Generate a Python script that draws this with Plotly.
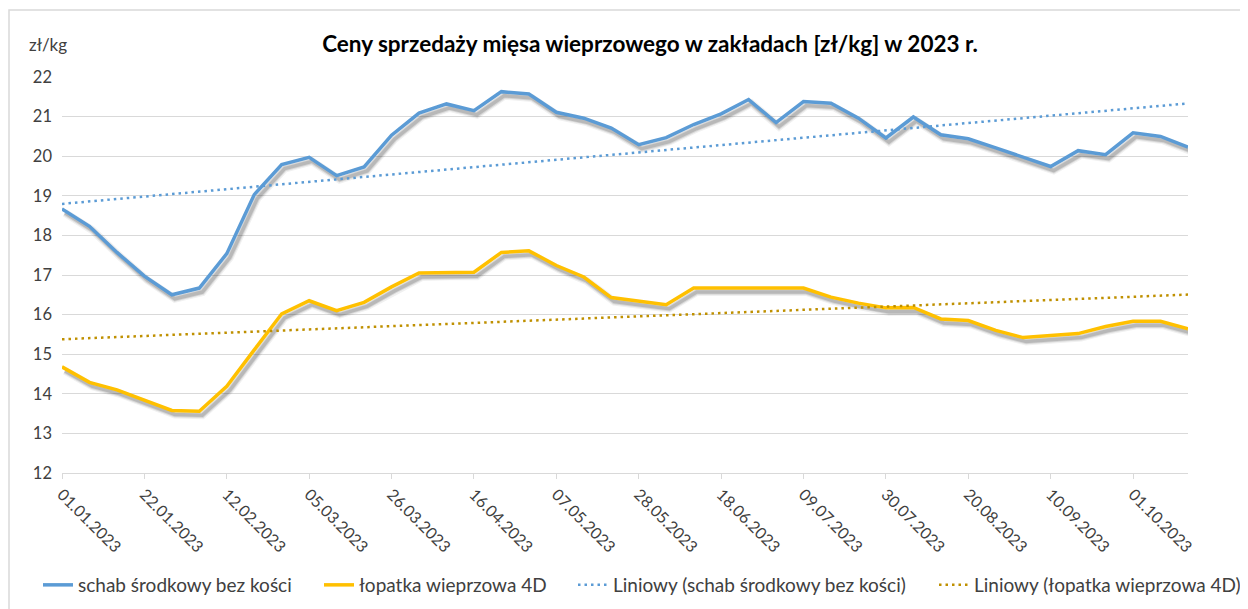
import numpy as np
import plotly.graph_objects as go

# ---------------- data ----------------
dates = ["01.01.2023", "08.01.2023", "15.01.2023", "22.01.2023", "29.01.2023", "05.02.2023",
         "12.02.2023", "19.02.2023", "26.02.2023", "05.03.2023", "12.03.2023", "19.03.2023",
         "26.03.2023", "02.04.2023", "09.04.2023", "16.04.2023", "23.04.2023", "30.04.2023",
         "07.05.2023", "14.05.2023", "21.05.2023", "28.05.2023", "04.06.2023", "11.06.2023",
         "18.06.2023", "25.06.2023", "02.07.2023", "09.07.2023", "16.07.2023", "23.07.2023",
         "30.07.2023", "06.08.2023", "13.08.2023", "20.08.2023", "27.08.2023", "03.09.2023",
         "10.09.2023", "17.09.2023", "24.09.2023", "01.10.2023", "08.10.2023", "15.10.2023"]

schab = [18.67, 18.23, 17.57, 16.97, 16.50, 16.67, 17.54, 19.03, 19.79, 19.97,
         19.51, 19.73, 20.53, 21.09, 21.32, 21.15, 21.63, 21.57, 21.11, 20.96,
         20.71, 20.29, 20.47, 20.80, 21.07, 21.43, 20.85, 21.38, 21.34, 20.96,
         20.46, 20.99, 20.54, 20.44, 20.21, 19.98, 19.74, 20.14, 20.04, 20.59,
         20.50, 20.23]

lopatka = [14.68, 14.29, 14.10, 13.83, 13.58, 13.56, 14.19, 15.11, 16.02, 16.35,
           16.10, 16.31, 16.70, 17.05, 17.07, 17.07, 17.57, 17.61, 17.24, 16.95,
           16.43, 16.34, 16.25, 16.67, 16.67, 16.67, 16.65, 16.67, 16.44, 16.29,
           16.17, 16.18, 15.89, 15.85, 15.60, 15.42, 15.47, 15.52, 15.70, 15.83,
           15.83, 15.64]

tick_labels = ["01.01.2023", "22.01.2023", "12.02.2023", "05.03.2023", "26.03.2023",
               "16.04.2023", "07.05.2023", "28.05.2023", "18.06.2023", "09.07.2023",
               "30.07.2023", "20.08.2023", "10.09.2023", "01.10.2023"]

names = ["schab środkowy bez kości", "łopatka wieprzowa 4D",
         "Liniowy (schab środkowy bez kości)", "Liniowy (łopatka wieprzowa 4D)"]

# linear trendlines (Excel "Liniowy")
idx = np.arange(len(dates))
def trend(vals):
    a, b = np.polyfit(idx, np.array(vals), 1)
    return list(a * idx + b)

schab_tr = trend(schab)
lop_tr = trend(lopatka)

# ---------------- geometry ----------------
# The page body has an 8px margin, so the figure is sized/positioned to compensate.
OFF = 8
W, H = 1248 - OFF, 609 - OFF
PL, PR, PT, PB = 62 - OFF, 1188 - OFF, 77 - OFF, 473 - OFF   # plot area in figure px
ML, MR, MT, MB = PL, W - PR, PT, H - PB
PW, PH = PR - PL, PB - PT
Y_MIN, Y_MAX = 12, 22
N = len(dates)
px_per_cat = PW / (N - 1)
px_per_unit = PH / (Y_MAX - Y_MIN)
SHX, SHY = 3, 4  # shadow offset in px

def paper_x(px):
    return (px - PL) / PW

def paper_y(py):
    return (PB - py) / PH

BLUE = "#5B9BD5"
YELLOW = "#FFC000"
GOLD = "#BF9000"
TXT = "#404040"
FONT = "Lato, 'Open Sans', sans-serif"

fig = go.Figure()

# shadows on shifted hidden axes x2/y2
for vals in (schab, lopatka):
    for w, a in ((8, 0.06), (5.5, 0.10), (3.5, 0.14)):
        fig.add_trace(go.Scatter(x=dates, y=vals, mode="lines", xaxis="x2", yaxis="y2",
                                 line=dict(color=f"rgba(0,0,0,{a})", width=w),
                                 hoverinfo="skip", showlegend=False))

# main series + trendlines on overlay axes x3/y3, each in its own legend
series = [(schab, names[0], BLUE, 3.5, "solid", "legend"),
          (lopatka, names[1], YELLOW, 3.5, "solid", "legend2"),
          (schab_tr, names[2], BLUE, 2.5, "2.5px,4px", "legend3"),
          (lop_tr, names[3], GOLD, 2.5, "2.5px,4px", "legend4")]
for vals, nm, col, w, dash, lg in series:
    fig.add_trace(go.Scatter(x=dates, y=vals, mode="lines", name=nm, xaxis="x3", yaxis="y3",
                             line=dict(color=col, width=w, dash=dash), legend=lg))

# base axes placeholder trace
fig.add_trace(go.Scatter(x=dates, y=[None] * N, mode="lines", showlegend=False, hoverinfo="skip"))

dx = SHX / px_per_cat
dy = SHY / px_per_unit

# legend text start positions (reference page px) -> legend x
legend_text_x = [77, 358, 612, 973]
LEG_Y = 585 - OFF
leg_common = dict(orientation="h", xref="container", yref="container",
                  xanchor="left", yanchor="middle", font=dict(size=19, color=TXT),
                  bgcolor="rgba(0,0,0,0)")
legends = {}
for i, tx in enumerate(legend_text_x):
    key = "legend" if i == 0 else f"legend{i + 1}"
    legends[key] = dict(leg_common, x=(tx - OFF - 39) / W, y=1 - LEG_Y / H)

fig.update_layout(
    width=W, height=H,
    margin=dict(l=ML, r=MR, t=MT, b=MB, autoexpand=False),
    paper_bgcolor="white", plot_bgcolor="white",
    font=dict(family=FONT, color=TXT),
    title=dict(text="<b>Ceny sprzedaży mięsa wieprzowego w zakładach [zł/kg] w 2023 r.</b>",
               xref="container", yref="container", x=(650 - OFF) / W, y=1 - (44 - OFF) / H,
               xanchor="center", yanchor="middle",
               font=dict(family=FONT, size=22.5, color="#000000")),
    xaxis=dict(type="category", categoryorder="array", categoryarray=dates,
               range=[0, N - 1], tickmode="array", tickvals=tick_labels, ticktext=tick_labels,
               tickangle=45, ticks="outside", ticklen=5, tickcolor="#d9d9d9",
               showline=True, linecolor="#d9d9d9", linewidth=1, showgrid=False, zeroline=False,
               automargin=False, tickfont=dict(size=16, color=TXT)),
    yaxis=dict(range=[Y_MIN, Y_MAX], dtick=1, tick0=12, showgrid=True, gridcolor="#d9d9d9",
               gridwidth=1, zeroline=False, showline=False, ticks="", automargin=False,
               tickfont=dict(size=16.5, color=TXT), ticklabelstandoff=9),
    xaxis2=dict(type="category", categoryorder="array", categoryarray=dates, overlaying="x",
                anchor="y2", range=[0 - dx, N - 1 - dx], visible=False),
    yaxis2=dict(overlaying="y", anchor="x2", range=[Y_MIN + dy, Y_MAX + dy], visible=False),
    xaxis3=dict(type="category", categoryorder="array", categoryarray=dates, overlaying="x",
                anchor="y3", range=[0, N - 1], visible=False),
    yaxis3=dict(overlaying="y", anchor="x3", range=[Y_MIN, Y_MAX], visible=False),
    showlegend=True,
    hovermode=False,
    **legends,
)

# unit label
fig.add_annotation(text="zł/kg", xref="paper", yref="paper",
                   x=paper_x(27 - OFF), y=paper_y(44 - OFF), xanchor="left", yanchor="middle",
                   showarrow=False, font=dict(family=FONT, size=17, color=TXT))

# chart-area border (left and top edges visible in the reference)
fig.add_shape(type="rect", xref="paper", yref="paper",
              x0=paper_x(1), x1=paper_x(W + 5), y0=paper_y(H + 5), y1=paper_y(10 - OFF),
              line=dict(color="#d9d9d9", width=1.5), fillcolor="rgba(0,0,0,0)", layer="above")

fig.write_html("out.html")
